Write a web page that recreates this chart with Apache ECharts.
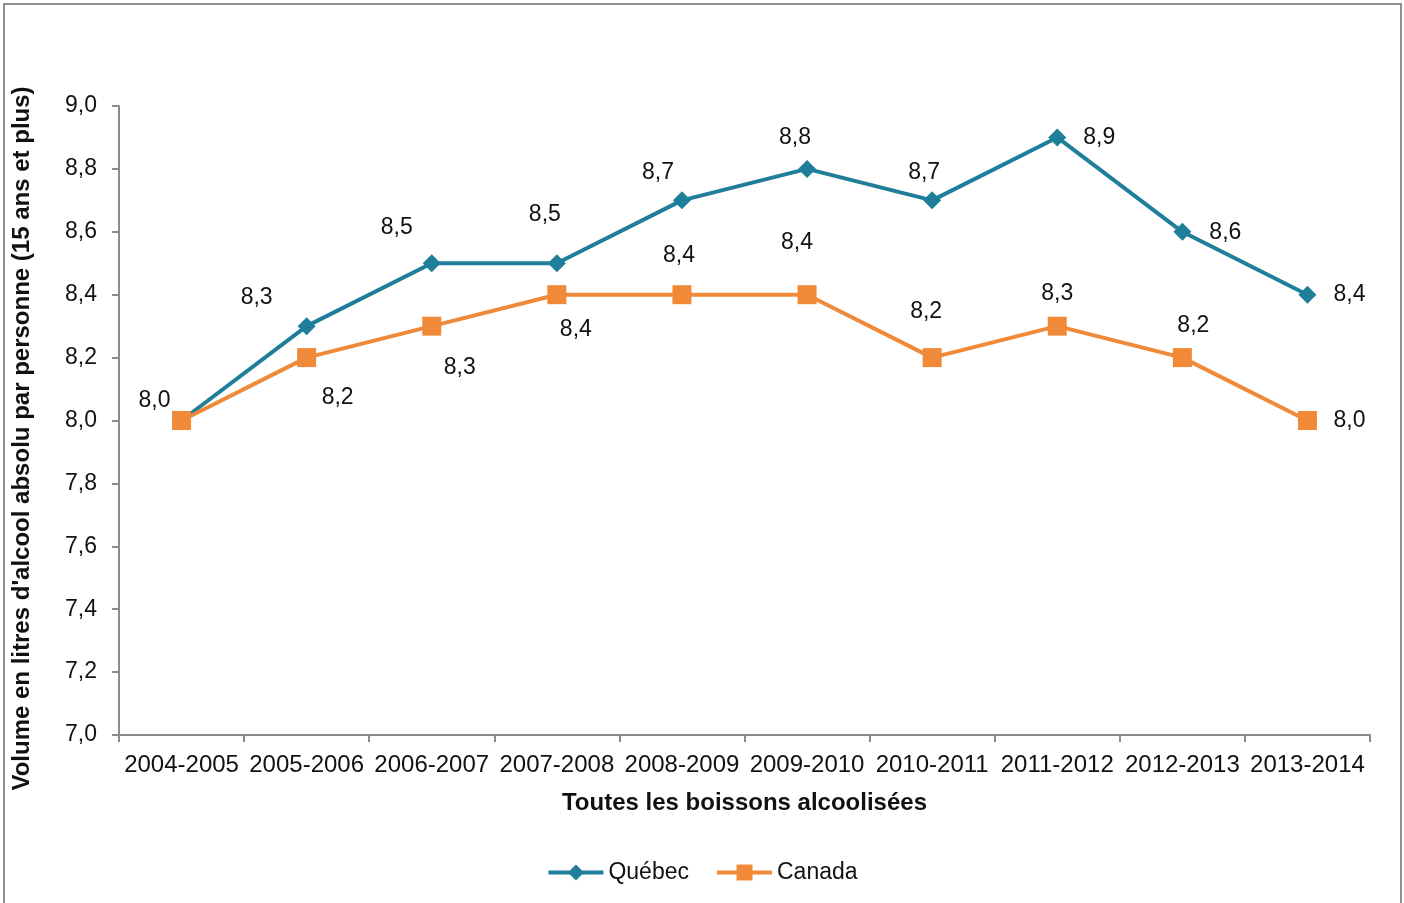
<!DOCTYPE html>
<html>
<head>
<meta charset="utf-8">
<script src="https://cdn.jsdelivr.net/npm/echarts@6/dist/echarts.min.js"></script>
<style>
  html, body { margin: 0; padding: 0; background: #fff; }
  #chart { width: 1404px; height: 903px; }
</style>
</head>
<body>
<div id="chart"></div>
<script>
  var categories = ['2004-2005', '2005-2006', '2006-2007', '2007-2008', '2008-2009',
    '2009-2010', '2010-2011', '2011-2012', '2012-2013', '2013-2014'];
  var quebec = [8.0, 8.3, 8.5, 8.5, 8.7, 8.8, 8.7, 8.9, 8.6, 8.4];
  var canada = [8.0, 8.2, 8.3, 8.4, 8.4, 8.4, 8.2, 8.3, 8.2, 8.0];
  var yTicks = [7.0, 7.2, 7.4, 7.6, 7.8, 8.0, 8.2, 8.4, 8.6, 8.8, 9.0];

  // where each value label sits relative to its point (px)
  var quebecOffsets = [[-27, -20], [-50, -28], [-35, -36], [-12, -49], [-24, -28],
    [-12, -31], [-8, -28], [42, 0], [43, 1], [42, 0]];
  var canadaOffsets = [null, [31, 40], [28, 42], [19, 35], [-3, -39],
    [-10, -52], [-6, -46], [0, -32], [11, -32], [42, 0]];

  function fmt(v) { return v.toFixed(1).replace('.', ','); }

  function withLabels(values, offsets) {
    return values.map(function (v, i) {
      var off = offsets[i];
      return {
        value: v,
        label: off ? { show: true, position: 'inside', offset: off } : { show: false }
      };
    });
  }

  var font = 'Liberation Sans, Arial, sans-serif';
  var axisGray = '#8c8c8c';
  var fs = 24;

  var chart = echarts.init(document.getElementById('chart'));
  chart.setOption({
    animation: false,
    textStyle: { fontFamily: font },
    graphic: [{
      type: 'rect',
      shape: { x: 4, y: 4, width: 1397, height: 960 },
      style: { fill: 'none', stroke: '#8f8f8f', lineWidth: 2 },
      silent: true
    }],
    grid: { left: 119, right: 34, top: 106, bottom: 168 },
    legend: {
      bottom: 14,
      left: 'center',
      itemWidth: 55,
      itemHeight: 20,
      itemGap: 26,
      lineStyle: { width: 4 },
      textStyle: { fontSize: 23, color: '#111', fontFamily: font },
      data: ['Québec', 'Canada']
    },
    xAxis: {
      type: 'category',
      data: categories,
      boundaryGap: true,
      name: 'Toutes les boissons alcoolisées',
      nameLocation: 'middle',
      nameGap: 56,
      nameTextStyle: { fontSize: fs, fontWeight: 'bold', color: '#111' },
      axisLine: { lineStyle: { color: axisGray, width: 2 } },
      axisTick: { show: true, length: 7, lineStyle: { color: axisGray, width: 2 } },
      axisLabel: { fontSize: fs, color: '#111', margin: 18, interval: 0 }
    },
    yAxis: {
      type: 'value',
      min: 7.0,
      max: 9.0,
      interval: 0.2,
      name: "Volume en litres d'alcool absolu par personne (15 ans et plus)",
      nameLocation: 'middle',
      nameGap: 85,
      nameTextStyle: { fontSize: fs, fontWeight: 'bold', color: '#111', padding: [0, 36, 0, 0] },
      splitLine: { show: false },
      axisLine: { show: true, lineStyle: { color: axisGray, width: 2 } },
      axisTick: { show: true, length: 7, lineStyle: { color: axisGray, width: 2 } },
      axisLabel: {
        fontSize: 23, color: '#111', margin: 22,
        formatter: function (v) {
          var t = yTicks.find(function (x) { return Math.abs(x - v) < 1e-6; });
          return t === undefined ? '' : fmt(t);
        }
      }
    },
    series: [
      {
        name: 'Québec',
        type: 'line',
        data: withLabels(quebec, quebecOffsets),
        symbol: 'diamond',
        symbolSize: 18,
        lineStyle: { width: 4, color: '#1f7f9a' },
        itemStyle: { color: '#1f7f9a' },
        label: { fontSize: 23, color: '#111', formatter: function (p) { return fmt(p.value); } },
        z: 2
      },
      {
        name: 'Canada',
        type: 'line',
        data: withLabels(canada, canadaOffsets),
        symbol: 'rect',
        symbolSize: 19,
        lineStyle: { width: 4, color: '#f08a39' },
        itemStyle: { color: '#f08a39' },
        label: { fontSize: 23, color: '#111', formatter: function (p) { return fmt(p.value); } },
        z: 3
      }
    ]
  });
</script>
</body>
</html>
